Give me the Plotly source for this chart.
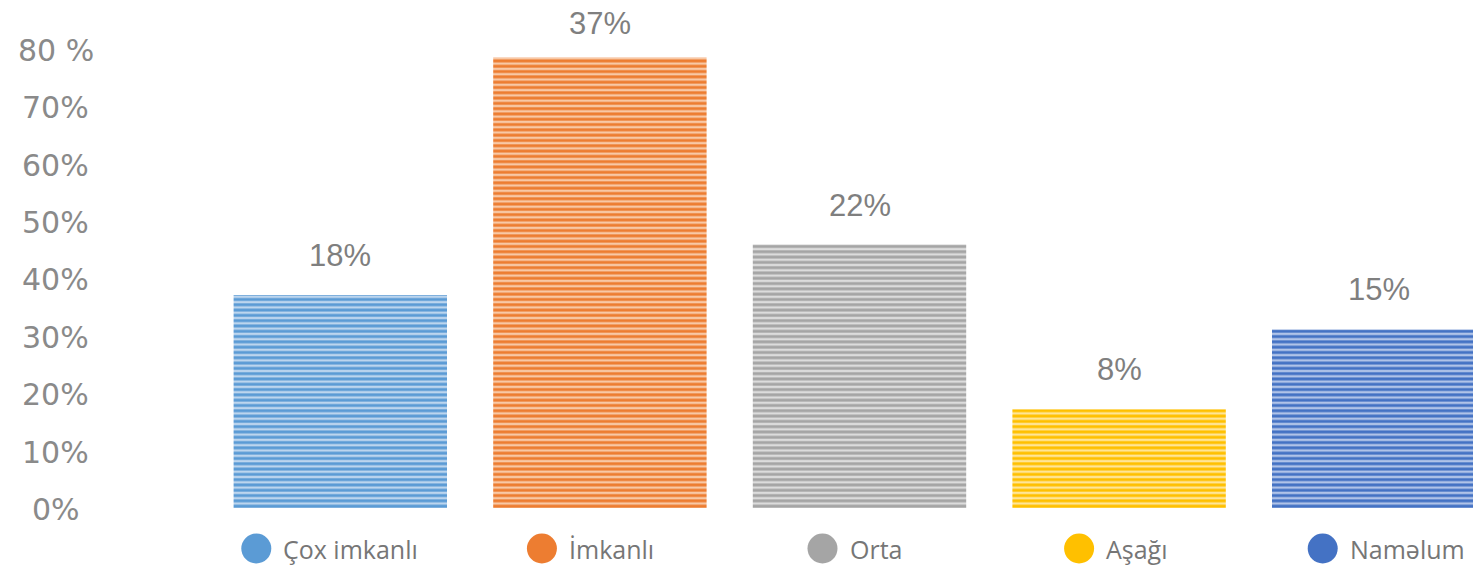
import plotly.graph_objects as go

# ---- data ----
categories = ["Çox imkanlı", "İmkanlı", "Orta", "Aşağı", "Naməlum"]
bar_values = [37.1, 78.5, 45.9, 17.2, 31.1]          # bar heights read on the axis
bar_labels = ["18%", "37%", "22%", "8%", "15%"]       # labels printed above bars
tick_values = [0, 10, 20, 30, 40, 50, 60, 70, 80]
tick_labels = ["0%", "10%", "20%", "30%", "40%", "50%", "60%", "70%", "80 %"]

# ---- styles ----
dark_colors = ["#5b9bd5", "#ed7d31", "#a5a5a5", "#ffc000", "#4472c4"]
light_colors = ["#bcd5ee", "#f8c8a5", "#dcdcdc", "#ffe597", "#b0c3e8"]

W, H = 1473, 565
px_per_cat = 259.6
x0_px = 340.3
y0_px = 508.0
px_per_unit = 5.74
x_range = [-x0_px / px_per_cat, (W - x0_px) / px_per_cat]
y_range = [-(H - y0_px) / px_per_unit, y0_px / px_per_unit]

legend_circle_dx_px = [-84, -58, -37, -40, -56]
legend_text_gap_px = 25
legend_y = -(548.5 - y0_px) / px_per_unit

fig = go.Figure()

xs = list(range(len(categories)))
for i, (name, v) in enumerate(zip(categories, bar_values)):
    fig.add_trace(go.Bar(
        x=[i], y=[v], width=0.822, name=name,
        marker=dict(
            color=dark_colors[i],
            line=dict(width=0),
            pattern=dict(shape="-", size=5.3, solidity=0.55,
                         fgcolor=dark_colors[i], bgcolor=light_colors[i],
                         fillmode="replace"),
        ),
        showlegend=False, hoverinfo="skip",
    ))

# legend circles
fig.add_trace(go.Scatter(
    x=[i + d / px_per_cat for i, d in zip(xs, legend_circle_dx_px)],
    y=[legend_y] * len(categories),
    mode="markers",
    marker=dict(size=30, color=dark_colors, line=dict(width=0)),
    showlegend=False, hoverinfo="skip", cliponaxis=False,
))

annotations = []
# legend texts
for i, (name, d) in enumerate(zip(categories, legend_circle_dx_px)):
    annotations.append(dict(
        x=i, y=legend_y, xref="x", yref="y", text=name, showarrow=False,
        xanchor="left", yanchor="middle", xshift=d + legend_text_gap_px,
        font=dict(family="Open Sans", size=25, color="#767676"),
    ))

# bar value labels
for i, (v, lab) in enumerate(zip(bar_values, bar_labels)):
    top_px = y0_px - v * px_per_unit
    center_px = max(top_px - 39.5, 23.5)
    annotations.append(dict(
        x=i, y=v, xref="x", yref="y", text=lab, showarrow=False,
        xanchor="center", yanchor="middle", yshift=top_px - center_px,
        font=dict(family="Liberation Sans", size=31, color="#7f7f7f"),
    ))

# y tick labels (centred column at the left)
for tv, tl in zip(tick_values, tick_labels):
    annotations.append(dict(
        x=55.5 / W, y=tv, xref="paper", yref="y", text=tl, showarrow=False,
        xanchor="center", yanchor="middle", yshift=-1.5,
        font=dict(family="DejaVu Sans", size=30, color="#8a8a8a"),
    ))

fig.update_layout(
    width=W, height=H,
    margin=dict(l=0, r=0, t=0, b=0),
    paper_bgcolor="white", plot_bgcolor="white",
    barmode="overlay",
    xaxis=dict(range=x_range, visible=False, fixedrange=True),
    yaxis=dict(range=y_range, visible=False, fixedrange=True),
    annotations=annotations,
    showlegend=False,
)

fig.write_html(
    "out.html",
    config={"displayModeBar": False},
    post_script="document.body.style.margin='0';document.body.style.overflow='hidden';",
)
